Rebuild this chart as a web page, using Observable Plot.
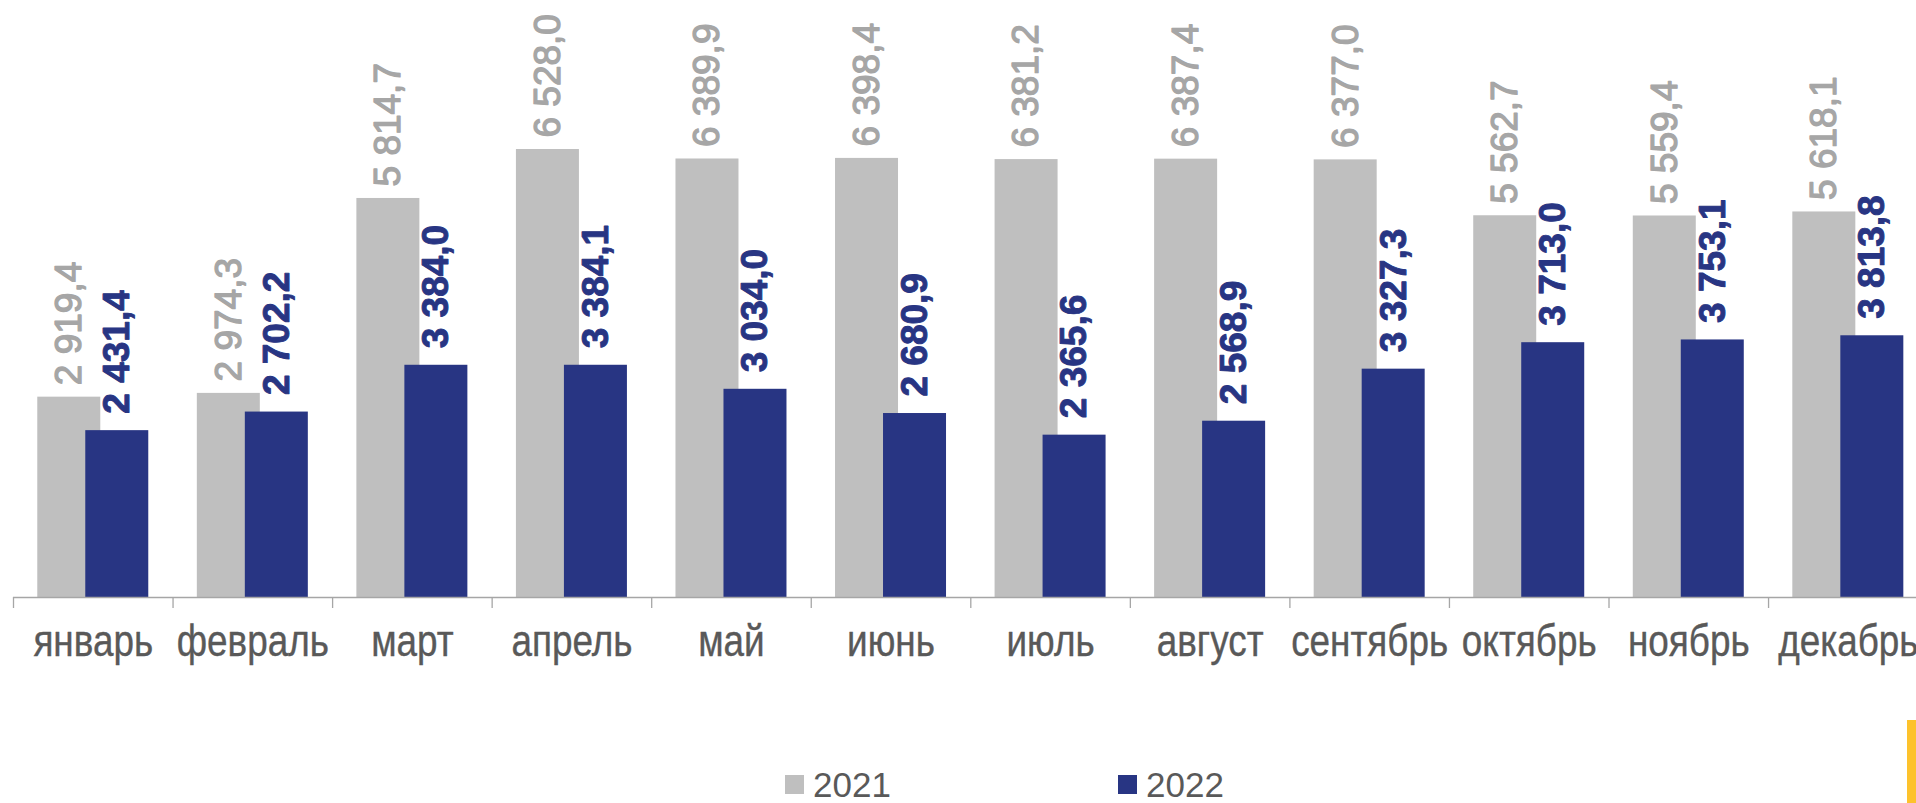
<!DOCTYPE html>
<html>
<head>
<meta charset="utf-8">
<script src="https://cdn.jsdelivr.net/npm/d3@7"></script>
<script src="https://cdn.jsdelivr.net/npm/@observablehq/plot@0.6"></script>
<style>
  html, body { margin: 0; padding: 0; background: #fff; overflow: hidden; }
  #chart svg { display: block; }
  #legend { position: relative; width: 1916px; height: 43px; font-family: "Liberation Sans", Arial, sans-serif; }
  #legend .sw { position: absolute; top: 15px; width: 19px; height: 19px; }
  #legend .lt { position: absolute; top: 10px; font-size: 35px; line-height: 30px; color: #595959; white-space: nowrap; }
  #accent { position: fixed; left: 1907px; top: 720px; width: 9px; height: 83px; background: #FDC22C; }
</style>
</head>
<body>
<div id="chart"></div>
<div id="legend"></div>
<div id="accent"></div>
<script>
const months = ["январь", "февраль", "март", "апрель", "май", "июнь", "июль", "август", "сентябрь", "октябрь", "ноябрь", "декабрь"];
const values2021 = [2919.4, 2974.3, 5814.7, 6528.0, 6389.9, 6398.4, 6381.2, 6387.4, 6377.0, 5562.7, 5559.4, 5618.1];
const values2022 = [2431.4, 2702.2, 3384.0, 3384.1, 3034.0, 2680.9, 2365.6, 2568.9, 3327.3, 3713.0, 3753.1, 3813.8];
const seriesNames = ["2021", "2022"];
const seriesColors = ["#BFBFBF", "#283583"];

const fmt = d3.formatLocale({decimal: ",", thousands: " ", grouping: [3], currency: ["", ""]}).format(",.1f");
const rows2021 = months.map((m, i) => ({month: m, value: values2021[i]}));
const rows2022 = months.map((m, i) => ({month: m, value: values2022[i]}));

const W = 1916, H = 760;
const left = 13, step = 159.55;
const barW = 63, shift = 24;
const inset = (step - barW) / 2;
const axisColor = "#A6A6A6";

const chart = Plot.plot({
  width: W, height: H,
  marginLeft: left, marginRight: 0, marginTop: 48, marginBottom: 163,
  style: {background: "white", fontFamily: "'Liberation Sans', Arial, sans-serif", overflow: "hidden"},
  x: {domain: months, range: [left, left + step * months.length], padding: 0, round: false, axis: null},
  y: {domain: [0, 8000], axis: null},
  marks: [
    Plot.barY(rows2021, {x: "month", y: "value", fill: seriesColors[0], dx: -shift, insetLeft: inset, insetRight: inset}),
    Plot.barY(rows2022, {x: "month", y: "value", fill: seriesColors[1], dx: shift, insetLeft: inset, insetRight: inset}),
    Plot.ruleY([0], {stroke: axisColor, strokeWidth: 1.3}),
    Plot.ruleX(months, {x: d => d, y1: 0, y2: 0, dx: -step / 2, insetBottom: -11, stroke: axisColor, strokeWidth: 1.3}),
    Plot.text(rows2021, {x: "month", y: "value", text: d => fmt(d.value), rotate: -90, textAnchor: "start", lineAnchor: "middle",
      dx: -shift, dy: -12, fill: "#A6A6A6", stroke: "#A6A6A6", strokeWidth: 1.3, fontSize: 37}),
    Plot.text(rows2022, {x: "month", y: "value", text: d => fmt(d.value), rotate: -90, textAnchor: "start", lineAnchor: "middle",
      dx: shift, dy: -17, fill: seriesColors[1], stroke: seriesColors[1], strokeWidth: 0.9, fontWeight: "bold", fontSize: 37}),
    Plot.text(months, {x: d => d, frameAnchor: "bottom", lineAnchor: "middle", dy: 44.3, fontSize: 45, fill: "#595959",
      stroke: "#595959", strokeWidth: 0.4})
  ]
});
document.getElementById("chart").appendChild(chart);

// condensed month labels
const squeeze = 0.82;
const monthSet = new Set(months);
chart.querySelectorAll("text").forEach(el => {
  if (!monthSet.has(el.textContent)) return;
  const t = el.getAttribute("transform") || "";
  const x = +el.getAttribute("x") || 0, y = +el.getAttribute("y") || 0;
  el.setAttribute("transform", `${t} translate(${x},${y}) scale(${squeeze},1) translate(${-x},${-y})`);
});

// legend
const legendPos = [[785, 813], [1118, 1146]];
const legend = document.getElementById("legend");
seriesNames.forEach((name, i) => {
  const sw = document.createElement("span");
  sw.className = "sw";
  sw.style.left = legendPos[i][0] + "px";
  sw.style.background = seriesColors[i];
  legend.appendChild(sw);
  const lt = document.createElement("span");
  lt.className = "lt";
  lt.style.left = legendPos[i][1] + "px";
  lt.textContent = name;
  legend.appendChild(lt);
});
</script>
</body>
</html>
